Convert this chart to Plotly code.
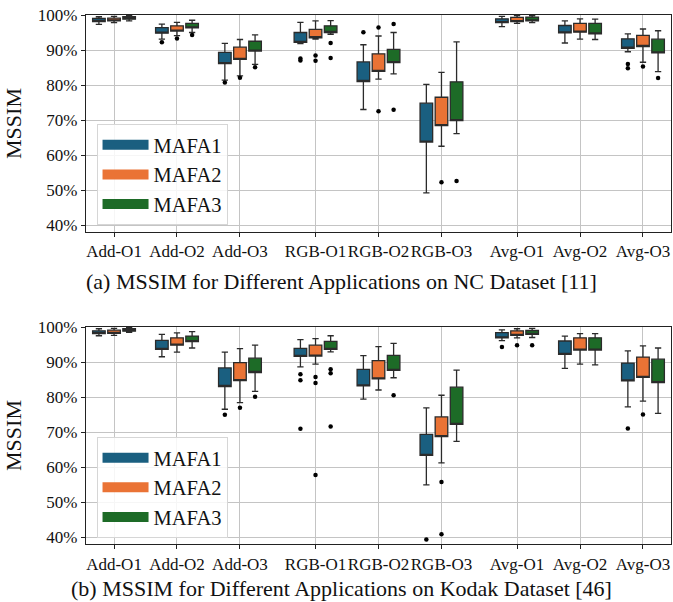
import plotly.graph_objects as go

# Categories and series
CATEGORIES = ["Add-O1", "Add-O2", "Add-O3", "RGB-O1", "RGB-O2", "RGB-O3",
              "Avg-O1", "Avg-O2", "Avg-O3"]
SERIES = ["MAFA1", "MAFA2", "MAFA3"]
COLORS = ["#1a5f80", "#ea7335", "#1d6b27"]

# NC dataset: whisker ends, quartiles (MSSIM, %), one row per series
NC_LOW = [[97.4, 93.2, 81.5, 91.9, 73.1, 49.3, 96.8, 92.1, 89.6],
          [97.9, 94.2, 82.7, 93.2, 81.8, 62.6, 97.7, 93.2, 86.6],
          [98.4, 95.1, 86.0, 94.6, 83.3, 66.2, 97.9, 93.1, 83.9]]
NC_Q1 = [[98.2, 94.9, 86.2, 92.3, 81.1, 63.8, 97.9, 95.0, 90.6],
         [98.4, 95.5, 87.4, 93.6, 84.0, 68.5, 98.2, 95.2, 91.1],
         [98.9, 96.4, 89.8, 95.1, 86.5, 69.9, 98.4, 94.7, 89.3]]
NC_Q3 = [[99.1, 96.5, 89.4, 95.1, 86.7, 74.9, 99.0, 97.1, 93.3],
         [99.2, 97.0, 90.9, 96.0, 89.0, 76.6, 99.4, 97.7, 94.3],
         [99.6, 97.7, 92.6, 97.0, 90.3, 81.0, 99.5, 97.7, 93.2]]
NC_HIGH = [[99.6, 97.5, 92.0, 98.0, 91.6, 80.3, 99.7, 98.4, 94.7],
           [99.7, 98.0, 93.1, 98.4, 94.1, 83.7, 99.9, 99.0, 96.1],
           [99.9, 98.6, 94.4, 98.5, 95.1, 92.4, 99.9, 98.9, 95.6]]
NC_OUTLIERS = [
    [[], [92.3], [80.8], [87.7, 87.1], [95.2], [], [], [], [86.1, 84.9]],
    [[], [93.4], [82.2], [88.5, 87.0], [96.5, 72.6], [52.3], [], [], [85.4]],
    [[], [94.4], [85.2], [92.1, 87.8], [97.5, 73.0], [52.7], [], [], [82.1]],
]

# Kodak dataset
KODAK_LOW = [[97.6, 91.6, 76.6, 88.7, 79.5, 55.0, 96.2, 88.3, 77.3],
             [97.7, 92.9, 78.5, 89.5, 82.1, 61.3, 97.0, 89.5, 78.9],
             [98.6, 94.1, 81.7, 93.0, 85.6, 67.4, 97.1, 89.3, 75.4]]
KODAK_Q1 = [[98.2, 93.7, 83.1, 91.7, 83.3, 63.4, 97.0, 92.3, 84.7],
            [98.3, 94.9, 84.8, 91.8, 85.3, 68.8, 97.7, 93.5, 85.7],
            [98.9, 95.9, 87.1, 93.7, 87.7, 72.3, 98.0, 93.5, 84.2]]
KODAK_Q3 = [[99.0, 96.3, 88.4, 94.0, 88.0, 69.4, 98.5, 96.1, 89.8],
            [99.2, 97.0, 89.9, 94.9, 90.5, 74.4, 99.0, 97.0, 91.5],
            [99.6, 97.5, 91.2, 96.0, 92.0, 82.9, 99.1, 97.0, 90.9]]
KODAK_HIGH = [[99.6, 98.0, 92.9, 96.5, 91.9, 77.0, 99.3, 97.5, 93.3],
              [99.7, 98.4, 93.9, 96.8, 94.5, 80.6, 99.6, 98.2, 94.7],
              [99.9, 98.8, 94.9, 97.6, 95.4, 87.8, 99.7, 98.2, 94.1]]
KODAK_OUTLIERS = [
    [[], [], [75.0], [86.6, 84.9, 71.0], [], [39.4], [94.4], [], [71.1]],
    [[], [], [77.0], [85.8, 84.1, 57.8], [], [55.8, 40.9], [94.9], [], [75.1]],
    [[], [], [80.2], [88.0, 86.9, 71.7], [80.6], [], [94.9], [], []],
]

Y_TICKS = [40, 50, 60, 70, 80, 90, 100]
CAPTIONS = ["(a) MSSIM for Different Applications on NC Dataset [11]",
            "(b) MSSIM for Different Applications on Kodak Dataset [46]"]

FONT = "Liberation Serif, Times New Roman, serif"

# category centres: groups of three with a wider gap between groups
GROUP_GAP = 1.2
centres = [(i // 3) * (3 - 1 + GROUP_GAP) + (i % 3) for i in range(len(CATEGORIES))]
OFFSETS = [-0.24, 0.0, 0.24]
BOX_WIDTH = 0.2

fig = go.Figure()

datasets = [
    (NC_LOW, NC_Q1, NC_Q3, NC_HIGH, NC_OUTLIERS, "x", "y", "legend"),
    (KODAK_LOW, KODAK_Q1, KODAK_Q3, KODAK_HIGH, KODAK_OUTLIERS, "x2", "y2", "legend2"),
]

for low, q1, q3, high, outliers, xa, ya, leg in datasets:
    for s, name in enumerate(SERIES):
        xs = [c + OFFSETS[s] for c in centres]
        # medians are not drawn: the median line sits on the lower box edge
        fig.add_trace(go.Box(
            x=xs, q1=q1[s], median=q1[s], q3=q3[s],
            lowerfence=low[s], upperfence=high[s],
            width=BOX_WIDTH, whiskerwidth=0.5,
            fillcolor=COLORS[s],
            line=dict(color="#2b2b2b", width=1.3),
            boxpoints=False, showlegend=False, hoverinfo="skip",
            xaxis=xa, yaxis=ya,
        ))
        ox, oy = [], []
        for c, vals in enumerate(outliers[s]):
            for v in vals:
                ox.append(centres[c] + OFFSETS[s])
                oy.append(v)
        fig.add_trace(go.Scatter(
            x=ox, y=oy, mode="markers",
            marker=dict(color="black", size=4.5),
            showlegend=False, hoverinfo="skip", xaxis=xa, yaxis=ya,
        ))
        # legend entry
        fig.add_trace(go.Scatter(
            x=[None], y=[None], mode="lines", name=name,
            line=dict(color=COLORS[s], width=15),
            showlegend=True, legend=leg, xaxis=xa, yaxis=ya,
        ))

xaxis_style = dict(
    range=[-0.445, centres[-1] + 0.445],
    tickvals=centres, ticktext=CATEGORIES, tickangle=0,
    showgrid=True, gridcolor="#c4c4c4", gridwidth=1,
    showline=True, linecolor="#222", linewidth=1.2, mirror=True,
    ticks="outside", ticklen=4, tickcolor="#222",
    tickfont=dict(family=FONT, size=17, color="#111"),
    zeroline=False,
)
yaxis_style = dict(
    range=[38.1, 100.1],
    tickvals=Y_TICKS, ticktext=[f"{v}%" for v in Y_TICKS],
    showgrid=True, gridcolor="#c4c4c4", gridwidth=1,
    showline=True, linecolor="#222", linewidth=1.2, mirror=True,
    ticks="outside", ticklen=4, tickcolor="#222",
    tickfont=dict(family=FONT, size=17, color="#111"),
    title=dict(text="MSSIM", font=dict(family=FONT, size=22, color="#111"),
               standoff=10),
    zeroline=False,
)

legend_style = dict(
    font=dict(family=FONT, size=20.5, color="#111"),
    bgcolor="rgba(255,255,255,0.85)", bordercolor="#d6d6d6", borderwidth=1,
    xanchor="left", yanchor="top", itemwidth=46,
)

fig.update_layout(
    width=673, height=602,
    margin=dict(l=86, r=2, t=15, b=58),
    paper_bgcolor="white", plot_bgcolor="white",
    boxmode="overlay",
    xaxis=dict(domain=[0, 1], anchor="y", **xaxis_style),
    yaxis=dict(domain=[0.5898, 1.0], anchor="x", **yaxis_style),
    xaxis2=dict(domain=[0, 1], anchor="y2", **xaxis_style),
    yaxis2=dict(domain=[0.0, 0.4102], anchor="x2", **yaxis_style),
    legend=dict(x=0.018, y=0.794, **legend_style),
    legend2=dict(x=0.018, y=0.2026, **legend_style),
    annotations=[
        dict(text=CAPTIONS[0], xref="paper", yref="paper", x=0.4368, y=0.497,
             xanchor="center", yanchor="middle", showarrow=False,
             font=dict(family=FONT, size=22, color="#111")),
        dict(text=CAPTIONS[1], xref="paper", yref="paper", x=0.4368, y=-0.085,
             xanchor="center", yanchor="middle", showarrow=False,
             font=dict(family=FONT, size=22, color="#111")),
    ],
)

fig.write_html("out.html")
